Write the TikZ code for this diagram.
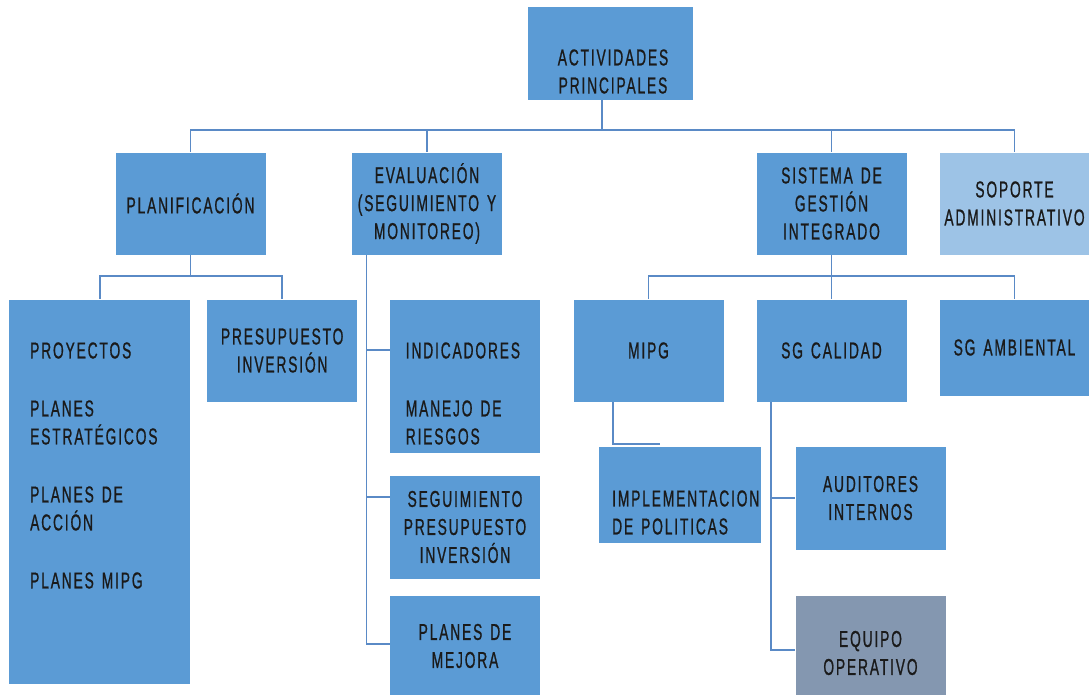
\documentclass[tikz,border=0pt]{standalone}
\usepackage{fontspec}
\setmainfont{Liberation Sans}[FakeStretch=0.6,LetterSpace=8,FakeBold=0.8,WordSpace=1.4]
\usetikzlibrary{positioning}

\definecolor{boxblue}{HTML}{5B9BD5}
\definecolor{paleblue}{HTML}{9DC3E6}
\definecolor{slateblue}{HTML}{8497B0}
\definecolor{linkblue}{HTML}{5A8AC6}
\definecolor{inkgray}{HTML}{1A1A1A}

\tikzset{
	orgbox/.style={draw=white,line width=0.8pt,fill=boxblue,rectangle,outer sep=0pt,inner sep=2pt,
		minimum width=151pt,minimum height=103pt,text=inkgray,align=center},
	orgtext/.style={inner sep=0pt,text=inkgray},
	orglink/.style={draw=linkblue,line width=1.8pt},
}

\begin{document}
\begin{tikzpicture}[x=1pt,y=-1pt,font=\fontsize{23}{28}\selectfont]

	\clip (0,0) rectangle (1089,695);

	\begin{scope}[every node/.style={orgbox}]
		% top
		\node[minimum width=166pt,minimum height=94pt] (act) at (610,53) {};
		% second row
		\node (plan) at (190.5,203.5) {PLANIFICACIÓN};
		\node (eval) at (427,203.5) {EVALUACIÓN\\(SEGUIMIENTO Y\\MONITOREO)};
		\node (sgi) at (831.5,203.5) {SISTEMA DE\\GESTIÓN\\INTEGRADO};
		\node[fill=paleblue] (soporte) at (1014.5,203.5) {SOPORTE\\ADMINISTRATIVO};
		% third row
		\node[minimum width=182pt,minimum height=385pt] (proy) at (99.6,491.5) {};
		\node (presup) at (282.2,350.5) {PRESUPUESTO\\INVERSIÓN};
		\node[minimum height=154pt] (indic) at (465,376) {};
		\node[minimum height=104pt] (seguim) at (465,527) {SEGUIMIENTO\\PRESUPUESTO\\INVERSIÓN};
		\node[minimum height=102pt] (mejora) at (465,646) {PLANES DE\\MEJORA};
		\node (mipg) at (648.5,350.5) {MIPG};
		\node (calidad) at (831.5,350.5) {SG CALIDAD};
		\node[minimum height=97pt] (ambiental) at (1014.5,347.5) {SG AMBIENTAL};
		\node[minimum width=163pt,minimum height=97pt] (impl) at (679.5,494.5) {};
		\node[minimum height=104pt] (auditores) at (870.5,498) {AUDITORES\\INTERNOS};
		\node[fill=slateblue,minimum height=116pt] (equipo) at (870.5,653) {EQUIPO\\OPERATIVO};
	\end{scope}

	\node[orgtext,align=center] (act_t) at (613,71.5) {ACTIVIDADES\\PRINCIPALES};
	\node[orgtext,align=left,anchor=west] (proy_t) at (30,465.5)
		{PROYECTOS\\[30pt]PLANES\\ESTRATÉGICOS\\[30pt]PLANES DE\\ACCIÓN\\[30pt]PLANES MIPG};
	\node[orgtext,align=left,anchor=west] (indic_t) at (405.6,393.5) {INDICADORES\\[30pt]MANEJO DE\\RIESGOS};
	\node[orgtext,align=left,anchor=west] (impl_t) at (612,512.5) {IMPLEMENTACION\\DE POLITICAS};

	% first level
	\coordinate (topbus) at (602,130);
	\draw[orglink] ([xshift=-8pt]act.south) -- (topbus);
	\draw[orglink] (plan.north) |- (topbus) -| (soporte.north);
	\draw[orglink] (eval.north) -- (eval.north |- topbus);
	\draw[orglink] (sgi.north) -- (sgi.north |- topbus);

	% planificacion
	\coordinate (planbus) at (190.5,276);
	\draw[orglink] (plan.south) -- (planbus);
	\draw[orglink] (proy.north) |- (planbus) -| (presup.north);

	% evaluacion
	\coordinate (evtop) at ([xshift=15pt]eval.south west);
	\draw[orglink] (evtop) |- ([yshift=26pt]indic.west);
	\draw[orglink] (evtop) |- ([yshift=30pt]seguim.west);
	\draw[orglink] (evtop) |- ([yshift=2pt]mejora.west);

	% sistema de gestion
	\coordinate (sgibus) at (831.5,276);
	\draw[orglink] (sgi.south) -- (sgibus);
	\draw[orglink] (mipg.north) |- (sgibus) -| (ambiental.north);
	\draw[orglink] (calidad.north) -- (sgibus);

	\coordinate (mipgdrop) at ([xshift=40pt]mipg.south west);
	\draw[orglink] (mipgdrop) |- ([xshift=62pt,yshift=2pt]impl.north west);

	\coordinate (caltop) at ([xshift=15pt]calidad.south west);
	\draw[orglink] (caltop) |- (auditores.west);
	\draw[orglink] (caltop) |- ([yshift=3pt]equipo.west);

\end{tikzpicture}
\end{document}
